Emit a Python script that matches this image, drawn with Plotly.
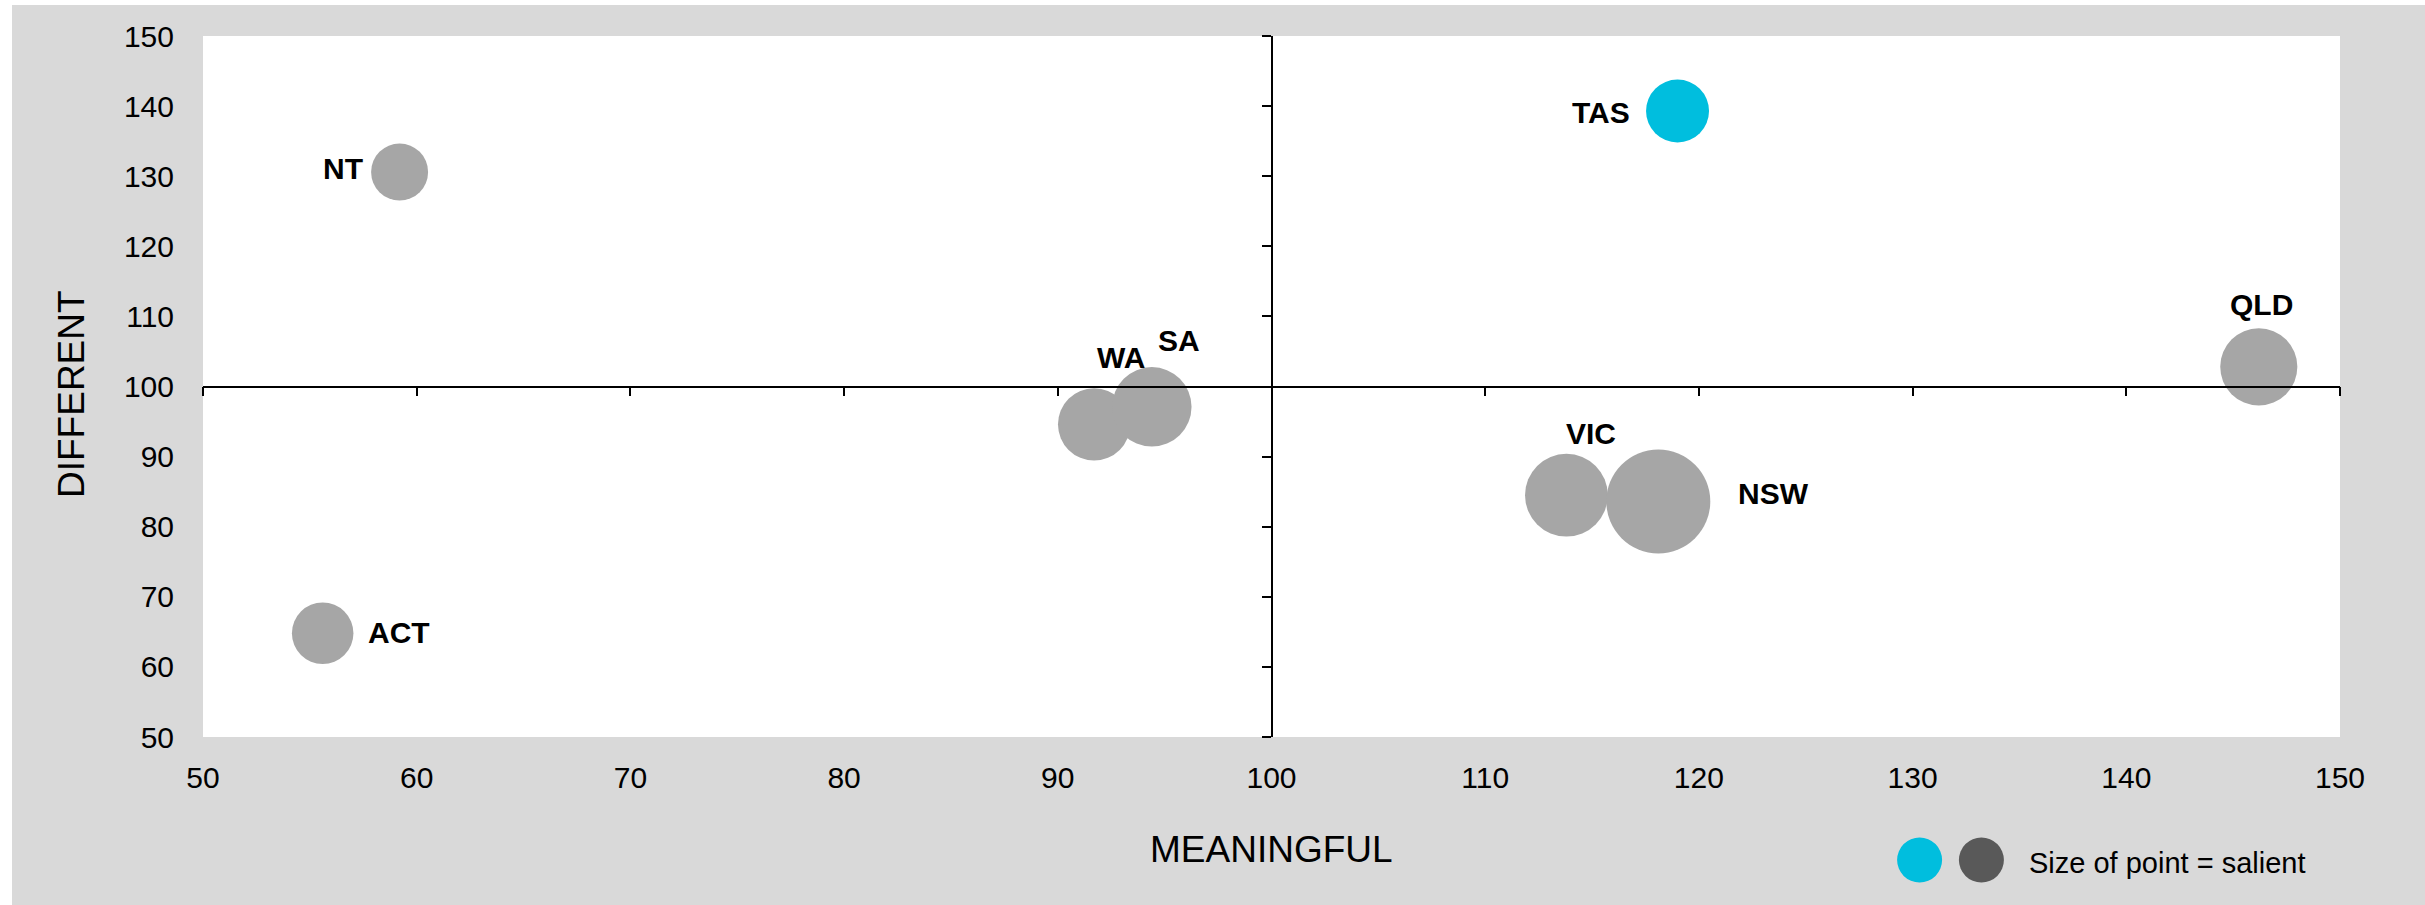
import plotly.graph_objects as go

# State scores on the two brand dimensions, bubble size = salience
states = ["NT", "ACT", "WA", "SA", "TAS", "QLD", "VIC", "NSW"]
meaningful = [59.2, 55.6, 91.7, 94.4, 119.0, 146.2, 113.8, 118.1]
different = [130.6, 64.8, 94.6, 97.1, 139.3, 102.8, 84.5, 83.6]
salient = [9.0, 10.5, 14.5, 17.5, 11.0, 16.5, 19.0, 30.0]
highlight = "TAS"

tick_vals = list(range(50, 151, 10))

FONT = "Liberation Sans, Arial, sans-serif"
GREY_BUBBLE = "#a6a6a6"
CYAN = "#00bede"
DARK = "#595959"
PANEL = "#d9d9d9"

# label placement per state: (xanchor, xshift px, yshift px)
label_pos = {
    "NT": ("right", -35, 3),
    "ACT": ("left", 43, 1),
    "WA": ("center", 27, 67),
    "SA": ("center", 27, 66),
    "TAS": ("right", -46, -1),
    "QLD": ("center", 3, 62),
    "VIC": ("center", 25, 62),
    "NSW": ("left", 78, 8),
}

W, H = 2425, 905
ML, MR, MT, MB = 203, 85, 36, 168
PW, PH = W - ML - MR, H - MT - MB


def px_x(px):
    return (px - ML) / PW


def px_y(py):
    return (H - MB - py) / PH


# largest bubble diameter in px
max_d = 104
sizeref = 2.0 * max(salient) / max_d ** 2

fig = go.Figure()
fig.add_trace(go.Scatter(
    x=meaningful, y=different, mode="markers",
    marker=dict(
        size=salient, sizemode="area", sizeref=sizeref,
        color=[CYAN if s == highlight else GREY_BUBBLE for s in states],
        line=dict(width=0), opacity=1,
    ),
    hovertext=states, showlegend=False,
))
# carrier trace for the crossing axes through (100, 100)
fig.add_trace(go.Scatter(x=[None], y=[None], xaxis="x2", yaxis="y2",
                         showlegend=False, hoverinfo="skip"))

annotations = []
for s, xv, yv in zip(states, meaningful, different):
    anc, dx, dy = label_pos[s]
    annotations.append(dict(
        x=xv, y=yv, text=s, showarrow=False, xanchor=anc, yanchor="middle",
        xshift=dx, yshift=dy,
        font=dict(family=FONT, size=30, color="black", weight="bold"),
    ))

annotations.append(dict(
    xref="paper", yref="paper", x=0.5, y=px_y(849), text="MEANINGFUL",
    showarrow=False, xanchor="center", yanchor="middle",
    font=dict(family=FONT, size=37, color="black"),
))
annotations.append(dict(
    xref="paper", yref="paper", x=px_x(71), y=px_y(394), text="DIFFERENT",
    showarrow=False, textangle=-90, xanchor="center", yanchor="middle",
    font=dict(family=FONT, size=37, color="black"),
))
annotations.append(dict(
    xref="paper", yref="paper", x=px_x(2027), y=px_y(863), text="Size of point = salient",
    showarrow=False, xanchor="left", yanchor="middle",
    font=dict(family=FONT, size=29, color="black"),
))

shapes = [
    # white border strips around the grey panel
    dict(type="rect", xref="paper", yref="paper", layer="above",
         x0=px_x(-5), x1=px_x(12), y0=px_y(H + 5), y1=px_y(-5),
         fillcolor="white", line=dict(width=0)),
    dict(type="rect", xref="paper", yref="paper", layer="above",
         x0=px_x(-5), x1=px_x(W + 5), y0=px_y(5), y1=px_y(-5),
         fillcolor="white", line=dict(width=0)),
]
for cx, col in [(1919.6, CYAN), (1981.4, DARK)]:
    shapes.append(dict(
        type="circle", xref="paper", yref="paper",
        xsizemode="pixel", ysizemode="pixel",
        xanchor=px_x(cx), yanchor=px_y(860),
        x0=-22.5, x1=22.5, y0=-22.5, y1=22.5,
        fillcolor=col, line=dict(width=0),
    ))

axis_font = dict(family=FONT, size=30, color="black")

fig.update_layout(
    width=W, height=H,
    margin=dict(l=ML, r=MR, t=MT, b=MB, pad=0),
    paper_bgcolor=PANEL, plot_bgcolor="white",
    xaxis=dict(range=[50, 150], tickvals=tick_vals, showgrid=False, zeroline=False,
               showline=False, ticks="", tickfont=axis_font, ticklabelstandoff=20,
               fixedrange=True),
    yaxis=dict(range=[50, 150], tickvals=tick_vals, showgrid=False, zeroline=False,
               showline=False, ticks="", tickfont=axis_font, ticklabelstandoff=28,
               fixedrange=True),
    xaxis2=dict(range=[50, 150], tickvals=tick_vals, overlaying="x", anchor="free",
                position=0.5, side="bottom", showline=True, linecolor="black",
                linewidth=1.5, ticks="outside", ticklen=9, tickwidth=1.5,
                tickcolor="black", showticklabels=False, showgrid=False,
                zeroline=False, fixedrange=True),
    yaxis2=dict(range=[50, 150], tickvals=tick_vals, overlaying="y", anchor="free",
                position=0.5, side="left", showline=True, linecolor="black",
                linewidth=1.5, ticks="outside", ticklen=9, tickwidth=1.5,
                tickcolor="black", showticklabels=False, showgrid=False,
                zeroline=False, fixedrange=True),
    annotations=annotations,
    shapes=shapes,
    showlegend=False,
)

fig.write_html("out.html")
